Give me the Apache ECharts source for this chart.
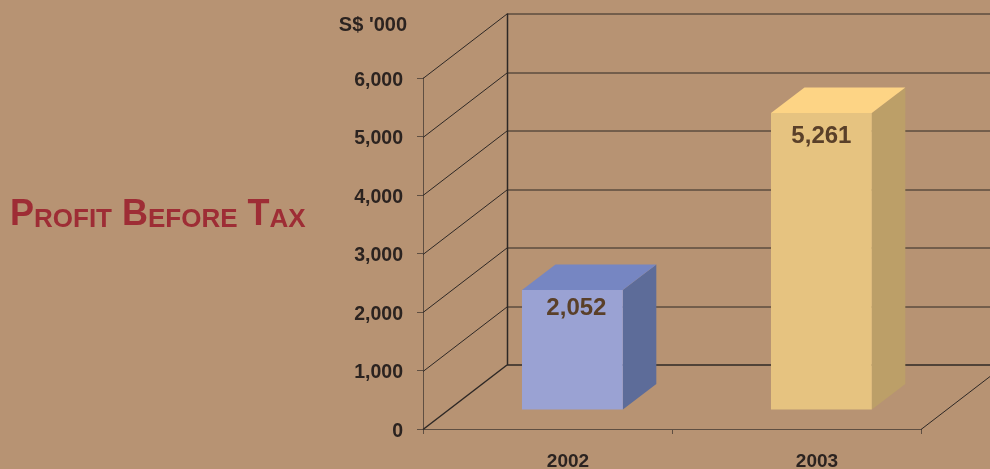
<!DOCTYPE html>
<html>
<head>
<meta charset="utf-8">
<style>html,body{margin:0;padding:0;background:#b79373}#chart{width:990px;height:469px}</style>
<script src="https://cdn.jsdelivr.net/npm/echarts@6/dist/echarts.min.js"></script>
</head>
<body>
<div id="chart"></div>
<script>
const categories = ['2002', '2003'];
const profitValues = [2052, 5261];
const axisTicks = [0, 1000, 2000, 3000, 4000, 5000, 6000];

// Oblique projection of the chart box and of the bars inside it
const WALL_DX = 84, WALL_DY = -64.5;
const BAR_DX = 33.5, BAR_DY = -25.5;
const BAR_WIDTH_RATIO = 0.405, BAR_SHIFT_RATIO = 0.1;
// The bars stand partway into the box, on their own inner value plane
const PLANE_MIN = -468, PLANE_MAX = 5896, PLANE_FLOOR = -114;

const BAR_COLORS = [
  { front: '#9aa2d3', top: '#7686c2', side: '#5d6c99' },
  { front: '#e6c380', top: '#fdd485', side: '#bc9f68' }
];
const LABEL_NUDGE = [[4, 18], [0, 23]];

const FONT = '"Liberation Sans", Arial, sans-serif';
const INK = '#2b2320', WALL = '#2e2825', AXIS = '#5f4f42';

function renderWalls(params, api) {
  const left = params.coordSys.x, right = left + params.coordSys.width;
  const isFloor = api.value(0) === 0;
  const y = Math.round(api.coord([0, api.value(0)])[1]) + 0.5;
  const line = (x1, y1, x2, y2, w) => ({
    type: 'line',
    shape: { x1, y1, x2, y2 },
    style: { stroke: WALL, lineWidth: w || 1, fill: null }
  });
  const backY = y + WALL_DY;
  const children = [
    line(left, y, left + WALL_DX, backY, isFloor ? 1.5 : 1),
    line(left + WALL_DX, backY, right + WALL_DX, backY, isFloor ? 1.5 : 1)
  ];
  if (isFloor) {
    children.push(line(right, y, right + WALL_DX, backY));
    const topY = api.coord([0, axisTicks[axisTicks.length - 1]])[1] + WALL_DY;
    children.push(line(left + WALL_DX + 0.5, topY, left + WALL_DX + 0.5, backY, 1.5));
  }
  return { type: 'group', children };
}

function renderBar(params, api) {
  const i = api.value(0);
  const band = api.size([1, 0])[0];
  const c = api.coord([i, api.value(1)]);
  const x0 = c[0] + band * BAR_SHIFT_RATIO - band * BAR_WIDTH_RATIO / 2;
  const x1 = x0 + band * BAR_WIDTH_RATIO;
  const yTop = c[1];
  const yBase = api.coord([i, PLANE_FLOOR])[1];
  const col = BAR_COLORS[i];
  const poly = (points, fill) => ({
    type: 'polygon', shape: { points }, style: { fill, stroke: null }
  });
  return {
    type: 'group',
    children: [
      poly([[x1, yTop], [x1 + BAR_DX, yTop + BAR_DY], [x1 + BAR_DX, yBase + BAR_DY], [x1, yBase]], col.side),
      poly([[x0, yTop], [x0 + BAR_DX, yTop + BAR_DY], [x1 + BAR_DX, yTop + BAR_DY], [x1, yTop]], col.top),
      poly([[x0, yTop], [x1, yTop], [x1, yBase], [x0, yBase]], col.front),
      {
        type: 'text',
        style: {
          x: (x0 + x1) / 2 + LABEL_NUDGE[i][0],
          y: yTop + LABEL_NUDGE[i][1],
          text: api.value(1).toLocaleString('en-US'),
          fill: '#5a4029',
          font: 'bold 24px ' + FONT,
          align: 'center',
          verticalAlign: 'middle'
        }
      }
    ]
  };
}

const chart = echarts.init(document.getElementById('chart'), null, { renderer: 'canvas' });
chart.setOption({
  animation: false,
  backgroundColor: '#b79373',
  title: {
    left: 10, top: 193, padding: 0,
    text: '{b|P}{s|ROFIT}{b| B}{s|EFORE}{b| T}{s|AX}',
    textStyle: {
      rich: {
        b: { fontFamily: FONT, fontWeight: 'bold', fontSize: 36, color: '#9e2d35', verticalAlign: 'bottom', lineHeight: 40 },
        s: { fontFamily: FONT, fontWeight: 'bold', fontSize: 26, color: '#9e2d35', verticalAlign: 'bottom', lineHeight: 40 }
      }
    }
  },
  grid: { left: 423, top: 78, width: 498, height: 351, outerBoundsMode: 'none' },
  xAxis: {
    type: 'category',
    data: categories,
    axisLine: { lineStyle: { color: AXIS, width: 1 } },
    axisTick: { show: true, length: 5, lineStyle: { color: AXIS } },
    axisLabel: {
      color: INK, fontFamily: FONT, fontWeight: 'bold', fontSize: 19,
      margin: 23, padding: [0, 0, 0, 41]
    }
  },
  yAxis: [
    {
      type: 'value', min: 0, max: 6000, interval: 1000,
      name: "S$ '000",
      nameLocation: 'end',
      nameGap: 43,
      nameTextStyle: {
        color: INK, fontFamily: FONT, fontWeight: 'bold', fontSize: 20,
        align: 'right', padding: [0, 16, 0, 0]
      },
      axisLine: { show: true, lineStyle: { color: AXIS, width: 1 } },
      axisTick: { show: true, length: 6, lineStyle: { color: AXIS } },
      splitLine: { show: false },
      axisLabel: {
        margin: 20,
        formatter: v => '{t|' + v.toLocaleString('en-US') + '}',
        rich: {
          t: {
            color: INK, fontFamily: FONT, fontWeight: 'bold', fontSize: 19.5,
            padding: [5, 0, 0, 0]
          }
        }
      }
    },
    { type: 'value', min: PLANE_MIN, max: PLANE_MAX, show: false, splitLine: { show: false } }
  ],
  series: [
    {
      type: 'custom', coordinateSystem: 'cartesian2d', yAxisIndex: 0, z: 1, silent: true,
      clip: false,
      renderItem: renderWalls,
      encode: { y: 0 },
      data: axisTicks.map(v => [v])
    },
    {
      type: 'custom', coordinateSystem: 'cartesian2d', yAxisIndex: 1, z: 3, silent: true,
      clip: false,
      renderItem: renderBar,
      encode: { x: 0, y: 1 },
      data: profitValues.map((v, i) => [i, v])
    }
  ]
});
</script>
</body>
</html>
